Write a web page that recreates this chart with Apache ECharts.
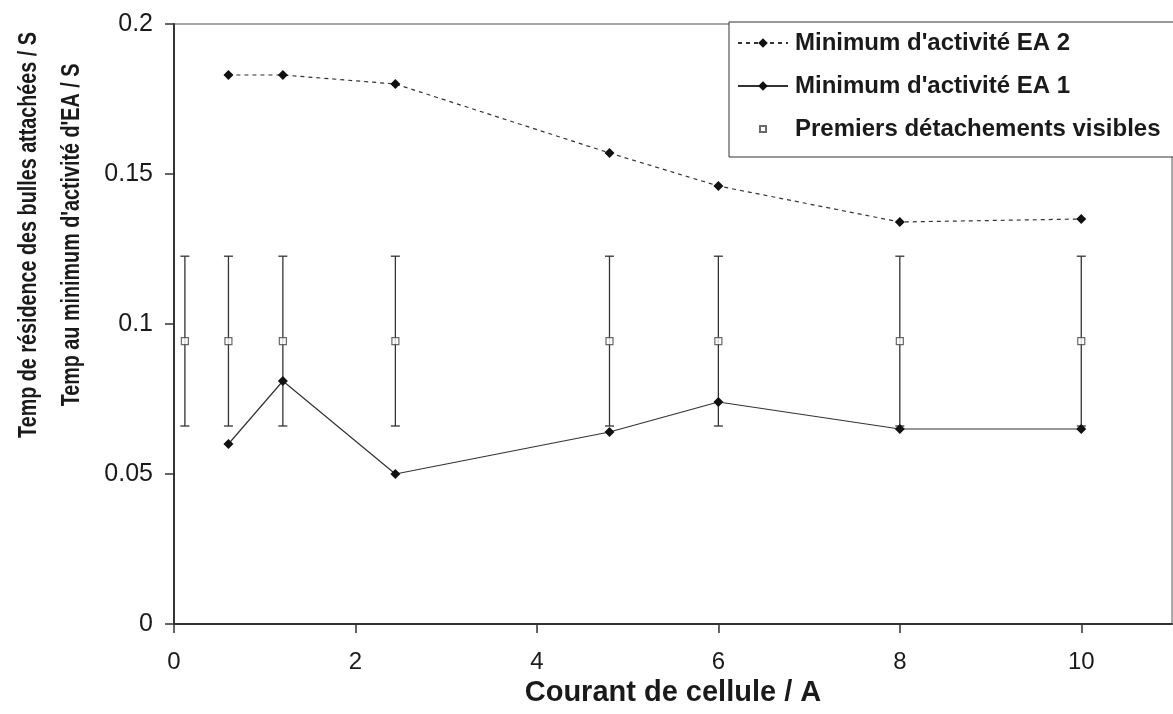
<!DOCTYPE html>
<html>
<head>
<meta charset="utf-8">
<script src="https://cdn.jsdelivr.net/npm/echarts@6/dist/echarts.min.js"></script>
<style>
html,body{margin:0;padding:0;background:#fff;}
#chart{width:1173px;height:714px;}
</style>
</head>
<body>
<div id="chart"></div>
<script>
// ---- data ----
const currents = [0.6, 1.2, 2.44, 4.8, 6, 8, 10];
const ea2Values = [0.183, 0.183, 0.180, 0.157, 0.146, 0.134, 0.135];
const ea1Values = [0.060, 0.081, 0.050, 0.064, 0.074, 0.065, 0.065];
const detachCurrents = [0.12, 0.6, 1.2, 2.44, 4.8, 6, 8, 10];
const detachMean = [0.0943, 0.0943, 0.0943, 0.0943, 0.0943, 0.0943, 0.0943, 0.0943];
const detachErr = [0.0283, 0.0283, 0.0283, 0.0283, 0.0283, 0.0283, 0.0283, 0.0283];
const seriesNames = ["Minimum d'activité EA 2", "Minimum d'activité EA 1", "Premiers détachements visibles"];
const xTitle = "Courant de cellule / A";
const yTitle1 = "Temp de résidence des bulles attachées / S";
const yTitle2 = "Temp au minimum d'activité d'EA / S";

const FONT = '"Liberation Sans", Arial, sans-serif';
const INK = '#1a1a1a';

const chart = echarts.init(document.getElementById('chart'), null, {renderer: 'canvas'});

const option = {
  animation: false,
  backgroundColor: '#fff',
  textStyle: {fontFamily: FONT, color: INK},
  grid: {left: 174, right: 1, top: 24, bottom: 90, show: true, borderColor: '#555', borderWidth: 1, backgroundColor: 'transparent'},
  legend: {
    orient: 'vertical',
    left: 729, top: 22,
    data: [
      {name: seriesNames[0]},
      {name: seriesNames[1]},
      {name: seriesNames[2], icon: 'path://M0,0M14,14M3.5,3.5L10.5,3.5L10.5,10.5L3.5,10.5Z'}
    ],
    backgroundColor: '#fff',
    borderColor: '#333', borderWidth: 1,
    padding: [9, 60, 16, 8],
    itemWidth: 50, itemHeight: 12, itemGap: 19,
    textStyle: {fontFamily: FONT, fontWeight: 'bold', fontSize: 24, color: INK, padding: [0, 0, 0, 2]},
    z: 10
  },
  xAxis: {
    type: 'value', min: 0, max: 11, interval: 2,
    name: xTitle, nameLocation: 'middle', nameGap: 52,
    nameTextStyle: {fontFamily: FONT, fontWeight: 'bold', fontSize: 29, color: INK},
    axisLine: {show: true, onZero: false, lineStyle: {color: '#333', width: 2}},
    axisTick: {show: true, inside: false, length: 9, lineStyle: {color: '#333', width: 1.5}},
    axisLabel: {fontFamily: FONT, fontSize: 24, color: INK, margin: 26, showMaxLabel: false},
    splitLine: {show: false}
  },
  yAxis: {
    type: 'value', min: 0, max: 0.2, interval: 0.05,
    axisLine: {show: true, onZero: false, lineStyle: {color: '#333', width: 2}},
    axisTick: {show: true, inside: false, length: 9, lineStyle: {color: '#333', width: 1.5}},
    axisLabel: {fontFamily: FONT, fontSize: 25, color: INK, margin: 21},
    splitLine: {show: false}
  },
  graphic: [
    {type: 'text', x: 29, y: 235, rotation: Math.PI / 2, scaleX: 0.79, z: 20,
     style: {text: yTitle1, font: 'bold 25px "Liberation Sans", Arial, sans-serif', fill: INK, align: 'center', verticalAlign: 'middle'}},
    {type: 'text', x: 72, y: 235, rotation: Math.PI / 2, scaleX: 0.79, z: 20,
     style: {text: yTitle2, font: 'bold 25px "Liberation Sans", Arial, sans-serif', fill: INK, align: 'center', verticalAlign: 'middle'}}
  ],
  series: [
    {
      name: seriesNames[0], type: 'line',
      data: currents.map((x, i) => [x, ea2Values[i]]),
      symbol: 'diamond', symbolSize: 10,
      itemStyle: {color: '#111'},
      lineStyle: {color: '#333', width: 1.2, type: [4, 4]},
      z: 5
    },
    {
      name: seriesNames[1], type: 'line',
      data: currents.map((x, i) => [x, ea1Values[i]]),
      symbol: 'diamond', symbolSize: 10,
      itemStyle: {color: '#111'},
      lineStyle: {color: '#333', width: 1.2, type: 'solid'},
      z: 5
    },
    {
      name: 'errbars', type: 'custom',
      data: detachCurrents.map((x, i) => [x, detachMean[i] - detachErr[i], detachMean[i] + detachErr[i]]),
      renderItem: function (params, api) {
        const x = api.value(0);
        const lo = api.coord([x, api.value(1)]);
        const hi = api.coord([x, api.value(2)]);
        const w = 4.5;
        const st = {stroke: '#333', lineWidth: 1.3};
        return {
          type: 'group',
          children: [
            {type: 'line', shape: {x1: lo[0], y1: lo[1], x2: hi[0], y2: hi[1]}, style: st},
            {type: 'line', shape: {x1: lo[0] - w, y1: lo[1], x2: lo[0] + w, y2: lo[1]}, style: st},
            {type: 'line', shape: {x1: hi[0] - w, y1: hi[1], x2: hi[0] + w, y2: hi[1]}, style: st}
          ]
        };
      },
      z: 3
    },
    {
      name: seriesNames[2], type: 'scatter',
      data: detachCurrents.map((x, i) => [x, detachMean[i]]),
      symbol: 'rect', symbolSize: 7,
      itemStyle: {color: '#fff', borderColor: '#444', borderWidth: 1.2},
      z: 6
    }
  ]
};
chart.setOption(option);
</script>
</body>
</html>
